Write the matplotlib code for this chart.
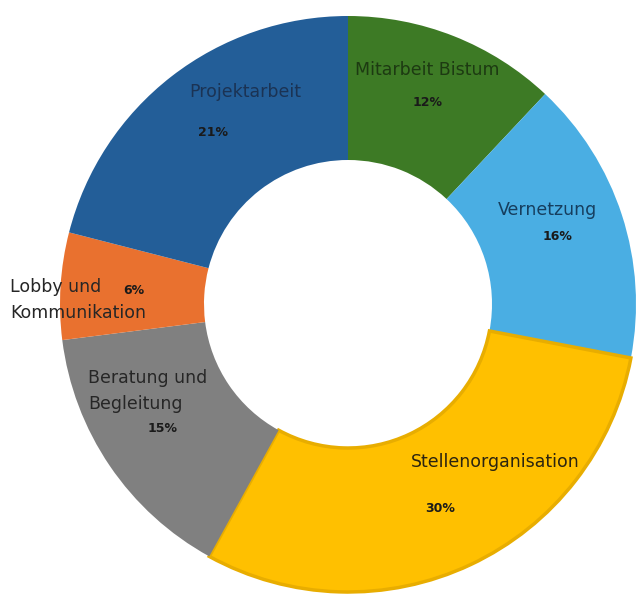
import numpy as np
import matplotlib.pyplot as plt

# donut: share of working time per area, clockwise from 12 o'clock
categories = ['Mitarbeit Bistum', 'Vernetzung', 'Stellenorganisation',
              'Beratung und\nBegleitung', 'Lobby und\nKommunikation', 'Projektarbeit']
shares = [12, 16, 30, 15, 6, 21]
colors = ['#3d7a25', '#4aaee3', '#ffc000', '#808080', '#e9712f', '#235e98']
text_colors = ['#1d3a12', '#163e5e', '#2b2410', '#262626', '#262626', '#1b3354']

plt.rcParams['font.family'] = ['DejaVu Sans']

fig = plt.figure(figsize=(6.36, 5.97), dpi=100)
W, H = 636, 597
cx, cy, R = 348, 304, 288
ax = fig.add_axes([(cx - R) / W, (H - cy - R) / H, 2 * R / W, 2 * R / H])

wedges, _ = ax.pie(shares, colors=colors, startangle=90, counterclock=False,
                   radius=1.0, wedgeprops=dict(width=0.5, linewidth=0))
# gold slice has a darker rim
wedges[2].set_edgecolor('#e8ad00')
wedges[2].set_linewidth(2.5)

ax.set_xlim(-1, 1)
ax.set_ylim(-1, 1)
ax.set_aspect('equal')
ax.axis('off')

def px(x, y):
    return (x - cx) / R, (cy - y) / R

# label anchor points (pixels in the reference) of the first line, then percent
name_pos = [(427, 70, 'center'), (547, 210, 'center'), (495, 462, 'center'),
            (88, 378, 'left'), (10, 287, 'left'), (245, 92, 'center')]
pct_pos = [(428, 103), (558, 237), (440, 508), (163, 428), (134, 291), (213, 133)]
line_step = 26

for i, name in enumerate(categories):
    x, y, ha = name_pos[i]
    # one text per line so the percent next to "Lobby und" stays clear
    for k, line in enumerate(name.split('\n')):
        ax.text(*px(x, y + k * line_step), line, ha=ha, va='center',
                fontsize=12.5, color=text_colors[i])
    ax.text(*px(*pct_pos[i]), '%d%%' % shares[i], ha='center', va='center',
            fontsize=9, fontweight='bold', color='#1a1a1a')

plt.savefig('out.png', dpi=100)
plt.close()
